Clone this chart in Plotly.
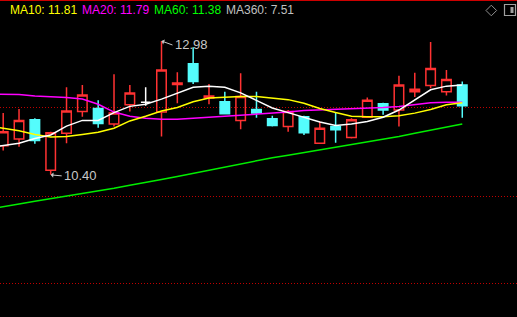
import plotly.graph_objects as go

W, H = 517, 317

# ---- candle data (index 0..29) ----
idx = list(range(30))
opens  = [10.96, 11.09, 11.46, 10.49, 11.20, 11.62, 11.68, 11.38, 11.75, 11.80,
          11.61, 12.14, 12.54, 11.88, 11.81, 11.45, 11.66, 11.48, 11.33, 11.52,
          11.01, 11.33, 11.12, 11.51, 11.77, 11.65, 12.00, 12.12, 12.00, 12.13]
highs  = [11.59, 11.67, 11.49, 11.23, 12.09, 12.13, 11.84, 12.34, 12.13, 12.09,
          12.98, 12.38, 12.86, 12.15, 12.00, 12.36, 12.00, 11.54, 11.65, 11.54,
          11.43, 11.59, 11.49, 11.89, 11.79, 12.31, 12.37, 12.96, 12.42, 12.20]
lows   = [10.87, 10.94, 11.00, 10.40, 11.01, 11.52, 11.31, 11.33, 11.62, 11.73,
          11.14, 11.78, 12.15, 11.76, 11.57, 11.28, 11.50, 11.33, 11.23, 11.17,
          11.00, 11.02, 11.10, 11.50, 11.56, 11.33, 11.90, 12.07, 11.93, 11.50]
closes = [11.23, 11.45, 11.06, 11.21, 11.63, 11.94, 11.39, 11.59, 11.98, 11.80,
          12.42, 12.17, 12.20, 11.92, 11.58, 11.91, 11.59, 11.35, 11.62, 11.21,
          11.30, 11.27, 11.46, 11.84, 11.65, 12.13, 12.05, 12.45, 12.24, 11.73]

# ---- moving averages (index -1..29) ----
ma_x = list(range(-1, 30))
ma5  = [10.92, 10.96, 11.01, 11.10, 11.17, 11.34, 11.45, 11.45, 11.60, 11.72, 11.76,
        11.86, 11.97, 12.09, 12.11, 12.09, 11.98, 11.84, 11.69, 11.60, 11.51,
        11.42, 11.35, 11.38, 11.43, 11.51, 11.65, 11.84, 12.04, 12.11, 12.13]
ma10 = [11.33, 11.30, 11.25, 11.18, 11.13, 11.14, 11.18, 11.22, 11.30, 11.44, 11.53,
        11.63, 11.70, 11.81, 11.88, 11.90, 11.91, 11.91, 11.88, 11.85, 11.78,
        11.68, 11.60, 11.53, 11.52, 11.52, 11.54, 11.59, 11.66, 11.75, 11.79]
ma20 = [11.96, 11.96, 11.95, 11.92, 11.91, 11.89, 11.86, 11.76, 11.61, 11.53, 11.49,
        11.47, 11.47, 11.49, 11.50, 11.52, 11.54, 11.57, 11.59, 11.61, 11.64,
        11.65, 11.66, 11.67, 11.68, 11.70, 11.72, 11.76, 11.79, 11.80, 11.80]
ma60 = [9.73, 9.79, 9.84, 9.89, 9.94, 9.98, 10.04, 10.09, 10.14, 10.20, 10.25,
        10.31, 10.37, 10.43, 10.49, 10.56, 10.62, 10.67, 10.73, 10.78, 10.83,
        10.88, 10.93, 10.98, 11.03, 11.09, 11.14, 11.20, 11.26, 11.32, 11.38]

header_labels = ["MA10: 11.81", "MA20: 11.79", "MA60: 11.38", "MA360: 7.51"]
header_colors = ["#ffff00", "#ff00ff", "#00ff00", "#c0c0c0"]
header_x_px = [8, 80, 152, 224]

high_idx, high_label = 10, "12.98"
low_idx, low_label = 3, "10.40"
grid_levels = [11.69, 9.99, 8.31]

RED = "#ff3232"
CYAN = "#54fcfc"

fig = go.Figure()

normal = [i for i in idx if opens[i] != closes[i]]
doji = [i for i in idx if opens[i] == closes[i]]

fig.add_trace(go.Candlestick(
    x=[idx[i] for i in normal],
    open=[opens[i] for i in normal], high=[highs[i] for i in normal],
    low=[lows[i] for i in normal], close=[closes[i] for i in normal],
    increasing=dict(line=dict(color=RED, width=1.5), fillcolor="rgba(0,0,0,0)"),
    decreasing=dict(line=dict(color=CYAN, width=1.5), fillcolor=CYAN),
    hoverinfo="skip", whiskerwidth=0,
))
fig.add_trace(go.Candlestick(
    x=[idx[i] for i in doji],
    open=[opens[i] for i in doji], high=[highs[i] for i in doji],
    low=[lows[i] for i in doji], close=[closes[i] for i in doji],
    increasing=dict(line=dict(color="#ffffff", width=1.5), fillcolor="#ffffff"),
    decreasing=dict(line=dict(color="#ffffff", width=1.5), fillcolor="#ffffff"),
    hoverinfo="skip", whiskerwidth=0,
))

for vals, col in [(ma60, "#00ee00"), (ma20, "#ff00ff"), (ma10, "#ffff00"), (ma5, "#ffffff")]:
    fig.add_trace(go.Scatter(x=ma_x, y=vals, mode="lines",
                             line=dict(color=col, width=1.5), hoverinfo="skip"))

ann = []
for lab, col, px in zip(header_labels, header_colors, header_x_px):
    ann.append(dict(text=lab, x=px / W, y=1 - 10 / H, xref="paper", yref="paper",
                    xanchor="left", yanchor="middle", showarrow=False,
                    font=dict(color=col, size=12, family="Liberation Sans, Arial")))

ann.append(dict(text=high_label, x=high_idx, y=highs[high_idx], xref="x", yref="y",
                ax=11, ay=4, xanchor="left", yanchor="middle", showarrow=True,
                arrowhead=1, arrowsize=0.9, arrowwidth=1, arrowcolor="#c8c8c8",
                font=dict(color="#c8c8c8", size=13, family="Liberation Sans, Arial")))
ann.append(dict(text=low_label, x=low_idx, y=lows[low_idx], xref="x", yref="y",
                ax=11, ay=1, xanchor="left", yanchor="middle", showarrow=True,
                arrowhead=1, arrowsize=0.9, arrowwidth=1, arrowcolor="#c8c8c8",
                font=dict(color="#c8c8c8", size=13, family="Liberation Sans, Arial")))


def px_x(v):
    return v / W


def px_y(v):
    return 1 - v / H


shapes = [
    dict(type="line", xref="paper", yref="paper", x0=0, x1=1, y0=1, y1=1,
         line=dict(color="#cc0000", width=2)),
    dict(type="path", xref="paper", yref="paper",
         path=f"M {px_x(486)},{px_y(10.5)} L {px_x(491.3)},{px_y(5.2)} L {px_x(496.6)},{px_y(10.5)} L {px_x(491.3)},{px_y(15.8)} Z",
         line=dict(color="#909090", width=1)),
    dict(type="rect", xref="paper", yref="paper", x0=px_x(504.5), x1=px_x(515.5),
         y0=px_y(15.5), y1=px_y(4.5), line=dict(color="#a0a0a0", width=1.2)),
    dict(type="rect", xref="paper", yref="paper", x0=px_x(510.5), x1=px_x(513.5),
         y0=px_y(13), y1=px_y(7), line=dict(width=0), fillcolor="#a0a0a0"),
]

fig.update_layout(
    width=W, height=H, margin=dict(l=0, r=0, t=0, b=0),
    paper_bgcolor="black", plot_bgcolor="black", showlegend=False,
    boxgap=0.4, boxgroupgap=0,
    xaxis=dict(range=[-0.202, 32.457], showgrid=False, zeroline=False,
               showticklabels=False, ticks="", rangeslider=dict(visible=False), fixedrange=True),
    yaxis=dict(range=[7.661, 13.770], tickvals=grid_levels, showgrid=True,
               gridcolor="#c00000", griddash="1px,2px", gridwidth=1,
               zeroline=False, showticklabels=False, ticks="", fixedrange=True),
    annotations=ann, shapes=shapes,
)

fig.write_html("out.html")
